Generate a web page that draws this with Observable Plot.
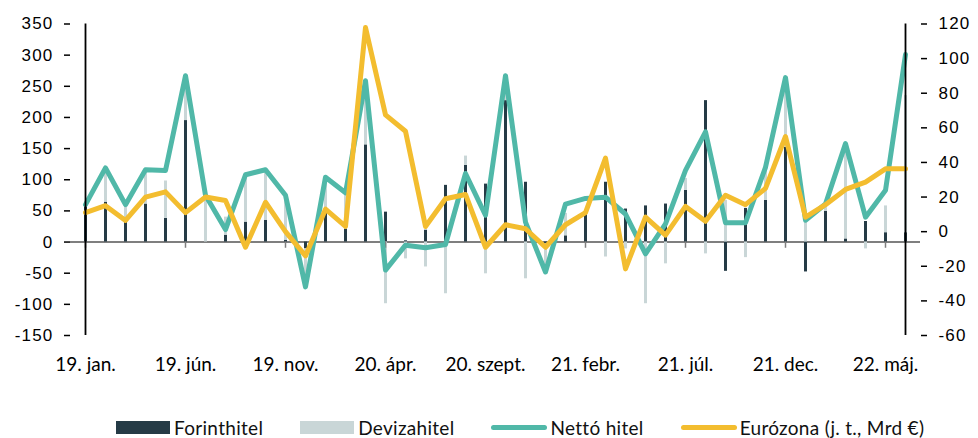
<!DOCTYPE html>
<html><head><meta charset="utf-8">
<script src="https://cdn.jsdelivr.net/npm/d3@7"></script>
<script src="https://cdn.jsdelivr.net/npm/@observablehq/plot@0.6"></script>
<style>
html,body{margin:0;padding:0;background:#fff}
body{width:978px;height:438px}
#chart svg{display:block}
#legend{margin-top:27px;padding-left:116px;display:flex;align-items:center;font-family:Lato,sans-serif;font-size:19px;line-height:21px;letter-spacing:0.3px;color:#111;white-space:nowrap}
#legend .item{display:flex;align-items:center;margin-right:37px;flex-shrink:0}
#legend .sw{display:inline-block;width:54px;height:13px;margin-right:4px}
#legend .ln{display:inline-block;width:56px;height:5px;border-radius:3px;margin-right:3px}
g[aria-label="y-axis tick label"] text{letter-spacing:1.2px}
</style></head><body>
<div id="chart"></div>
<div id="legend"></div>
<script>
const months = ["19. jan.","19. febr.","19. márc.","19. ápr.","19. máj.","19. jún.","19. júl.","19. aug.","19. szept.","19. okt.","19. nov.","19. dec.",
"20. jan.","20. febr.","20. márc.","20. ápr.","20. máj.","20. jún.","20. júl.","20. aug.","20. szept.","20. okt.","20. nov.","20. dec.",
"21. jan.","21. febr.","21. márc.","21. ápr.","21. máj.","21. jún.","21. júl.","21. aug.","21. szept.","21. okt.","21. nov.","21. dec.",
"22. jan.","22. febr.","22. márc.","22. ápr.","22. máj.","22. jún."];
const tickMonths = ["19. jan.","19. jún.","19. nov.","20. ápr.","20. szept.","21. febr.","21. júl.","21. dec.","22. máj."];
const forint = [57,64,35,61,38,195,0,11,32,35,3,-11,54,21,156,48,2,19,91,123,93,227,96,-3,10,48,96,53,58,61,83,227,-47,54,67,152,-48,49,5,33,15,15];
const deviza = [3,55,22,55,60,48,75,29,76,80,69,-60,50,58,103,-99,-27,-40,-83,15,-51,40,-59,-45,36,4,-24,-11,-99,-35,19,-19,67,-25,53,112,38,12,150,-11,43,220];
const netto = [60,119,60,116,115,267,75,20,108,116,75,-72,104,79,259,-45,-5,-9,-4,110,43,267,32,-48,61,70,72,45,-19,29,115,177,31,31,120,264,35,61,158,40,83,301];
const euro = [11,15,6.5,20,23,11,20,18,-9,17,0,-14,13,3,118,67.5,58,3,19,21.5,-9,4,1.7,-9,4,11,42.5,-21.5,8.4,-2,14.6,6,21,15.6,25,55,8.4,15.6,24.4,28.6,36.3,36.3];
const leftTicks = [-150,-100,-50,0,50,100,150,200,250,300,350];
const rightTicks = [-60,-40,-20,0,20,40,60,80,100,120];
const seriesNames = ["Forinthitel","Devizahitel","Nettó hitel","Eurózona (j. t., Mrd €)"];
const colors = ["#253b46","#c9d6d7","#50b8a8","#f3bd2f"];

const L0 = leftTicks[0], L1 = leftTicks[leftTicks.length-1];
const R0 = rightTicks[0], R1 = rightTicks[rightTicks.length-1];
const toLeft = r => L0 + (r - R0) * (L1 - L0) / (R1 - R0);
const fromLeft = v => R0 + (v - L0) * (R1 - R0) / (L1 - L0);

const bars = months.flatMap((m,i)=>[{m, s:seriesNames[0], v:forint[i]},{m, s:seriesNames[1], v:deviza[i]}]);
const rows = months.map((m,i)=>({m, net:netto[i], eu:toLeft(euro[i])}));

const chart = Plot.plot({
  width: 978, height: 390,
  marginLeft: 70, marginRight: 58, marginTop: 23.5, marginBottom: 55,
  style: {fontFamily: "'Liberation Sans', Arial, sans-serif", fontSize: "17px", color: "#000", background: "#fff"},
  x: {type: "point", domain: months, padding: 0, label: null},
  y: {domain: [L0, L1], label: null},
  color: {domain: seriesNames.slice(0,2), range: colors.slice(0,2)},
  marks: [
    Plot.ruleY([0], {stroke: "#7f7f7f", strokeWidth: 2}),
    Plot.ruleX(bars, Plot.stackY({x: "m", y: "v", stroke: "s", strokeWidth: 3})),
    Plot.ruleX(tickMonths, {x: d=>d, y1: 0, y2: -10, stroke: "#7f7f7f", strokeWidth: 1.5}),
    Plot.line(rows, {x: "m", y: "net", stroke: colors[2], strokeWidth: 5, strokeLinejoin: "round"}),
    Plot.line(rows, {x: "m", y: "eu", stroke: colors[3], strokeWidth: 5, strokeLinejoin: "round"}),
    Plot.ruleX([months[0], months[months.length-1]], {x: d=>d, y1: L0, y2: L1, stroke: "#000", strokeWidth: 1.8}),
    Plot.axisY(leftTicks, {anchor: "left", label: null, tickSize: 6, tickPadding: 11, tickFormat: d=>String(d), strokeWidth: 1.5, stroke: "#000"}),
    Plot.axisY(rightTicks.map(toLeft), {anchor: "right", label: null, tickSize: 6, tickPadding: 12, tickFormat: d=>String(Math.round(fromLeft(d))), strokeWidth: 1.5, stroke: "#000"}),
    Plot.axisX(tickMonths, {anchor: "bottom", label: null, tickSize: 0, tickPadding: 22, lineWidth: Infinity, textOverflow: null, fontFamily: "Lato, sans-serif", fontSize: 19})
  ]
});
document.getElementById("chart").appendChild(chart);

const lg = document.getElementById("legend");
seriesNames.forEach((name,i)=>{
  const it = document.createElement("div"); it.className = "item";
  const s = document.createElement("span"); s.className = i < 2 ? "sw" : "ln"; s.style.background = colors[i];
  const t = document.createElement("span"); t.textContent = name;
  it.appendChild(s); it.appendChild(t); lg.appendChild(it);
});
</script></body></html>
